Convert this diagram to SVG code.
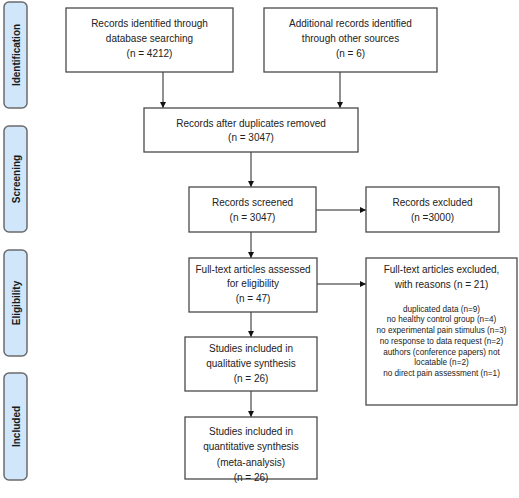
<svg xmlns="http://www.w3.org/2000/svg" width="519" height="498" viewBox="0 0 519 498">
<style>
.bg{fill:#ffffff}
.phase rect{fill:#cfe6fb;stroke:#6b6b6b;stroke-width:1.5}
.phase text{font-family:"Liberation Sans",Arial,sans-serif;font-size:10px;font-weight:bold;fill:#1a1a1a;text-anchor:middle}
.node rect{fill:#ffffff;stroke:#4a4a4a;stroke-width:1.3}
.node text{font-family:"Liberation Sans",Arial,sans-serif;font-size:10px;fill:#222;text-anchor:middle}
.node text.s{font-size:8.2px}
#connectors line{stroke:#222;stroke-width:1;marker-end:url(#ah)}
</style>
<defs>
<marker id="ah" markerUnits="userSpaceOnUse" markerWidth="7" markerHeight="7" refX="6" refY="3" orient="auto">
<path d="M0,0 L6,3 L0,6 z" fill="#111"/>
</marker>
</defs>
<rect class="bg" x="0" y="0" width="519" height="498"/>

<g id="phase-identification" class="phase"><rect x="4" y="2" width="23" height="106" rx="5"/><text transform="translate(19.5,55) rotate(-90)">Identification</text></g>
<g id="phase-screening" class="phase"><rect x="4" y="126" width="23" height="106" rx="5"/><text transform="translate(19.5,179) rotate(-90)">Screening</text></g>
<g id="phase-eligibility" class="phase"><rect x="4" y="250" width="23" height="106" rx="5"/><text transform="translate(19.5,303) rotate(-90)">Eligibility</text></g>
<g id="phase-included" class="phase"><rect x="4" y="373" width="23" height="107" rx="5"/><text transform="translate(19.5,426.5) rotate(-90)">Included</text></g>

<g id="connectors">
<line x1="163" y1="72" x2="163" y2="108"/>
<line x1="340" y1="72" x2="340" y2="108"/>
<line x1="251" y1="152" x2="251" y2="187"/>
<line x1="251" y1="232" x2="251" y2="258"/>
<line x1="316" y1="210" x2="366" y2="210"/>
<line x1="317" y1="284" x2="366" y2="284"/>
<line x1="251" y1="312" x2="251" y2="337"/>
<line x1="251" y1="391" x2="251" y2="417"/>
</g>

<g id="n-database" class="node"><rect x="66" y="8" width="167" height="64"/>
<text x="149.5" y="26.5">Records identified through</text>
<text x="149.5" y="41.5">database searching</text>
<text x="149.5" y="56.5">(n = 4212)</text></g>

<g id="n-other" class="node"><rect x="264" y="8" width="173" height="64"/>
<text x="350.5" y="26.5">Additional records identified</text>
<text x="350.5" y="41.5">through other sources</text>
<text x="350.5" y="56.5">(n = 6)</text></g>

<g id="n-dedup" class="node"><rect x="144" y="108" width="214" height="44"/>
<text x="251" y="126.5">Records after duplicates removed</text>
<text x="251" y="140.5">(n = 3047)</text></g>

<g id="n-screened" class="node"><rect x="189" y="187" width="127" height="45"/>
<text x="252.5" y="205.5">Records screened</text>
<text x="252.5" y="220.5">(n = 3047)</text></g>

<g id="n-excluded" class="node"><rect x="366" y="187" width="133" height="45"/>
<text x="432.5" y="205.5">Records excluded</text>
<text x="432.5" y="220.5">(n =3000)</text></g>

<g id="n-fulltext" class="node"><rect x="189" y="258" width="128" height="54"/>
<text x="253" y="272.5">Full-text articles assessed</text>
<text x="253" y="287">for eligibility</text>
<text x="253" y="302">(n = 47)</text></g>

<g id="n-ftexcluded" class="node"><rect x="366" y="258" width="151" height="147"/>
<text x="441.5" y="272.5">Full-text articles excluded,</text>
<text x="441.5" y="287.5">with reasons (n = 21)</text>
<text class="s" x="441.5" y="311.5">duplicated data (n=9)</text>
<text class="s" x="441.5" y="322.3">no healthy control group (n=4)</text>
<text class="s" x="441.5" y="333">no experimental pain stimulus (n=3)</text>
<text class="s" x="441.5" y="343.8">no response to data request (n=2)</text>
<text class="s" x="441.5" y="354.6">authors (conference papers) not</text>
<text class="s" x="441.5" y="365.4">locatable (n=2)</text>
<text class="s" x="441.5" y="376.2">no direct pain assessment (n=1)</text></g>

<g id="n-qualitative" class="node"><rect x="185" y="337" width="132" height="54"/>
<text x="251" y="351.5">Studies included in</text>
<text x="251" y="366.5">qualitative synthesis</text>
<text x="251" y="382">(n = 26)</text></g>

<g id="n-quantitative" class="node"><rect x="185" y="417" width="132" height="62"/>
<text x="251" y="434.5">Studies included in</text>
<text x="251" y="450">quantitative synthesis</text>
<text x="251" y="465.5">(meta-analysis)</text>
<text x="251" y="480.5">(n = 26)</text></g>
</svg>
